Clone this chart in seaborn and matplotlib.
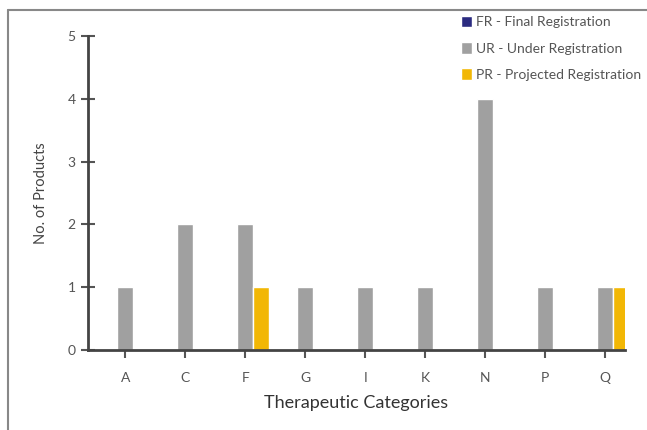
import pandas as pd
import seaborn as sns
import matplotlib.pyplot as plt
from matplotlib.lines import Line2D

categories = ['A', 'C', 'F', 'G', 'I', 'K', 'N', 'P', 'Q']
fr_values = [0, 0, 0, 0, 0, 0, 0, 0, 0]
ur_values = [1, 2, 2, 1, 1, 1, 4, 1, 1]
pr_values = [0, 0, 1, 0, 0, 0, 0, 0, 1]
series_names = ['FR - Final Registration', 'UR - Under Registration', 'PR - Projected Registration']
series_colors = ['#2B2B80', '#A0A0A0', '#F2B705']

df = pd.DataFrame({
    'category': categories * 3,
    'count': fr_values + ur_values + pr_values,
    'status': [series_names[0]] * 9 + [series_names[1]] * 9 + [series_names[2]] * 9,
})

sns.set_style('white')
plt.rcParams['font.family'] = ['Lato', 'DejaVu Sans']

fig = plt.figure(figsize=(6.47, 4.3), dpi=100)
ax = fig.add_axes([88 / 647, 1 - 350 / 430, (625 - 88) / 647, (350 - 36) / 430])

sns.barplot(data=df, x='category', y='count', hue='status', hue_order=series_names,
            palette=series_colors, width=0.8, saturation=1, ax=ax)

ax.set_xlim(-0.62, 8.33)
ax.set_ylim(0, 5)
ax.set_yticks(range(6))

for side in ['top', 'right']:
    ax.spines[side].set_visible(False)
for side in ['left', 'bottom']:
    ax.spines[side].set_color('#444444')
    ax.spines[side].set_linewidth(2)

ax.tick_params(axis='y', left=True, direction='inout', length=10, width=1.5, color='#555555',
               labelsize=10, labelcolor='#555555', pad=4)
ax.tick_params(axis='x', bottom=True, direction='out', length=6, width=1.5, color='#555555',
               labelsize=10, labelcolor='#555555', pad=10)

ax.set_xlabel('Therapeutic Categories', fontsize=13, color='#333333', labelpad=8)
ax.set_ylabel('No. of Products', fontsize=10.5, color='#444444', labelpad=14)

ax.legend(loc='upper left', bbox_to_anchor=(455 / 647, 1 - 10 / 430), bbox_transform=fig.transFigure,
          frameon=False, fontsize=10, labelcolor='#555555',
          handlelength=0.8, handleheight=0.9, handletextpad=0.3, labelspacing=1.0, borderaxespad=0)

# thin page frame at top and left
fig.add_artist(Line2D([8 / 647, 1], [1 - 10 / 430, 1 - 10 / 430], transform=fig.transFigure,
                      color='#888888', lw=1.5))
fig.add_artist(Line2D([8 / 647, 8 / 647], [0, 1 - 10 / 430], transform=fig.transFigure,
                      color='#888888', lw=1.5))

fig.savefig('out.png', dpi=100)
